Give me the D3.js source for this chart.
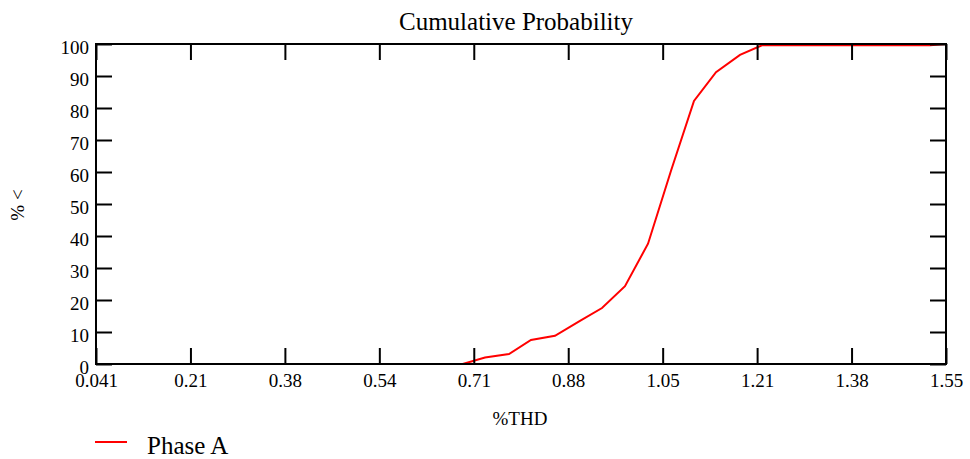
<!DOCTYPE html>
<html>
<head>
<meta charset="utf-8">
<script src="https://cdn.jsdelivr.net/npm/d3@7"></script>
<style>
  html, body { margin: 0; padding: 0; background: #fff; }
  svg text { font-family: "Liberation Serif", "Times New Roman", serif; fill: #000; }
</style>
</head>
<body>
<svg id="chart" width="970" height="459"></svg>
<script>
// ---- data ----
const xTickLabels = ["0.041", "0.21", "0.38", "0.54", "0.71", "0.88", "1.05", "1.21", "1.38", "1.55"];
const yTickValues = [0, 10, 20, 30, 40, 50, 60, 70, 80, 90, 100];
const thdValues = [0.041, 0.692, 0.7316, 0.7742, 0.8132, 0.8558, 0.9002, 0.9393, 0.9801, 1.021, 1.0618, 1.1026, 1.1417, 1.1843, 1.2233, 1.5215, 1.55];
const pctBelow  = [0,     0,     2.0,    3.1,    7.5,    8.8,    13.5,   17.5,   24.3,   37.6,  60.4,   82.2,   91.2,   96.6,   99.6,   99.6,   100];
const seriesName = "Phase A";
const titleText = "Cumulative Probability";
const xTitle = "%THD";
const yTitle = "% <";

// ---- layout ----
const svg = d3.select("#chart");
const L = 96, R = 946, T = 44, B = 364;
const xMin = 0.041, xMax = 1.55;
const x = d3.scaleLinear().domain([xMin, xMax]).range([L, R]);
const y = d3.scaleLinear().domain([0, 100]).range([B, T]);
const xTickVals = xTickLabels.map((d, i) => xMin + i * (xMax - xMin) / (xTickLabels.length - 1));
const tickLen = 16;

// series line
const pts = thdValues.map((v, i) => [v, pctBelow[i]]);
svg.append("path")
  .datum(pts)
  .attr("fill", "none")
  .attr("stroke", "#ff0000")
  .attr("stroke-width", 2)
  .attr("d", d3.line().x(d => x(d[0])).y(d => y(d[1])));

// axes (inward ticks)
const bottomAx = d3.axisBottom(x).tickValues(xTickVals).tickSize(-tickLen).tickFormat((d, i) => xTickLabels[i]).tickPadding(10);
const topAx = d3.axisTop(x).tickValues(xTickVals).tickSize(-tickLen).tickFormat("");
const leftAx = d3.axisLeft(y).tickValues(yTickValues).tickSize(-tickLen).tickFormat(d3.format("d")).tickPadding(7);
const rightAx = d3.axisRight(y).tickValues(yTickValues).tickSize(-tickLen).tickFormat("");

function style(g) {
  g.attr("font-family", null);
  g.select(".domain").remove();
  g.selectAll(".tick line").attr("stroke", "#000").attr("stroke-width", 2);
  g.selectAll(".tick text").style("font-size", "19px").attr("fill", "#000");
}
svg.append("g").attr("transform", `translate(0,${B})`).call(bottomAx).call(style)
  .selectAll(".tick text").attr("dy", "0.71em");
svg.append("g").attr("transform", `translate(0,${T})`).call(topAx).call(style);
svg.append("g").attr("transform", `translate(${L},0)`).call(leftAx).call(style)
  .selectAll(".tick text").attr("dy", "0.5em");
svg.append("g").attr("transform", `translate(${R},0)`).call(rightAx).call(style);

// frame
svg.append("rect").attr("x", L).attr("y", T).attr("width", R - L).attr("height", B - T)
  .attr("fill", "none").attr("stroke", "#000").attr("stroke-width", 2);

// titles
svg.append("text").attr("x", 516).attr("y", 30).attr("text-anchor", "middle")
  .style("font-size", "25px").text(titleText);
svg.append("text").attr("x", 520).attr("y", 425).attr("text-anchor", "middle")
  .style("font-size", "19px").text(xTitle);
svg.append("text").attr("transform", "translate(24,205) rotate(-90)").attr("text-anchor", "middle")
  .style("font-size", "19px").text(yTitle);

// legend
svg.append("line").attr("x1", 95).attr("x2", 127).attr("y1", 442).attr("y2", 442)
  .attr("stroke", "#ff0000").attr("stroke-width", 2);
svg.append("text").attr("x", 147).attr("y", 454).style("font-size", "25px").text(seriesName);
</script>
</body>
</html>
